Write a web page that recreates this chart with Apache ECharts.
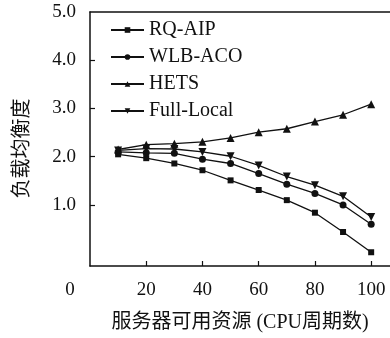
<!DOCTYPE html>
<html>
<head>
<meta charset="utf-8">
<script src="https://cdn.jsdelivr.net/npm/echarts@6/dist/echarts.min.js"></script>
<style>
  html, body { margin: 0; padding: 0; background: #fff; }
  #chart { width: 390px; height: 338px; }
</style>
</head>
<body>
<div id="chart"></div>
<script>
// CPU resources (cycles) on the x axis
const cpuResources = [10, 20, 30, 40, 50, 60, 70, 80, 90, 100];

// Load balance degree per scheduling strategy
const rqAip     = [2.05, 1.97, 1.86, 1.72, 1.51, 1.31, 1.10, 0.84, 0.44, 0.02];
const wlbAco    = [2.10, 2.08, 2.07, 1.95, 1.86, 1.65, 1.43, 1.24, 1.00, 0.60];
const hets      = [2.15, 2.25, 2.27, 2.31, 2.39, 2.51, 2.58, 2.73, 2.87, 3.09];
const fullLocal = [2.13, 2.17, 2.16, 2.10, 2.01, 1.82, 1.59, 1.41, 1.18, 0.75];

const seriesNames = ['RQ-AIP', 'WLB-ACO', 'HETS', 'Full-Local'];

const xTickValues  = [20, 40, 60, 80, 100];
const xLabelValues = [0, 20, 40, 60, 80, 100];
const yTickValues  = [1, 2, 3, 4];
const yLabelValues = [1, 2, 3, 4, 5];

const xName = '服务器可用资源 (CPU周期数)';
const yName = '负载均衡度';

const FONT = "'Liberation Serif', 'DejaVu Serif', 'Noto Sans CJK SC', serif";
const INK = '#111';

function pairs(ys) {
  return ys.map((y, i) => [cpuResources[i], y]);
}

function lineSeries(name, ys, symbol, size, rotate) {
  return {
    name: name,
    type: 'line',
    data: pairs(ys),
    symbol: symbol,
    symbolSize: size,
    symbolRotate: rotate || 0,
    showSymbol: true,
    animation: false,
    lineStyle: { color: INK, width: 1.3 },
    itemStyle: { color: INK, borderWidth: 0 }
  };
}

const chart = echarts.init(document.getElementById('chart'), null, { renderer: 'canvas' });

chart.setOption({
  backgroundColor: '#fff',
  animation: false,
  grid: { left: 90, right: 0, top: 12, bottom: 68.7, containLabel: false },
  legend: {
    data: seriesNames,
    orient: 'vertical',
    left: 105,
    top: 15,
    itemWidth: 33,
    itemHeight: 7,
    itemGap: 7,
    textStyle: { fontFamily: FONT, fontSize: 20, color: INK, lineHeight: 19 }
  },
  xAxis: [
    {
      type: 'value',
      min: 0,
      max: 106.7,
      position: 'bottom',
      name: xName,
      nameLocation: 'middle',
      nameGap: 47,
      nameTextStyle: { fontFamily: FONT, fontSize: 20, color: INK },
      axisLine: { show: true, onZero: false, lineStyle: { color: INK, width: 1.5 } },
      axisTick: { show: true, inside: true, length: 5, customValues: xTickValues, lineStyle: { color: INK, width: 1.2 } },
      axisLabel: {
        show: true,
        customValues: xLabelValues,
        margin: 15,
        fontFamily: FONT,
        fontSize: 19,
        color: INK,
        formatter: function (v) { return v === 0 ? '{z|0}' : String(v); },
        rich: { z: { fontFamily: FONT, fontSize: 19, color: INK, padding: [0, 40, 0, 0] } }
      },
      splitLine: { show: false }
    },
    {
      type: 'value',
      min: 0,
      max: 106.7,
      position: 'top',
      axisLine: { show: true, onZero: false, lineStyle: { color: INK, width: 1.5 } },
      axisTick: { show: false },
      axisLabel: { show: false },
      splitLine: { show: false }
    }
  ],
  yAxis: {
    type: 'value',
    min: -0.265,
    max: 5,
    name: yName,
    nameLocation: 'middle',
    nameRotate: 90,
    nameGap: 57,
    nameTextStyle: { fontFamily: FONT, fontSize: 20, color: INK, padding: [0, 19, 0, 0] },
    axisLine: { show: true, onZero: false, lineStyle: { color: INK, width: 1.5 } },
    axisTick: { show: true, inside: true, length: 5, customValues: yTickValues, lineStyle: { color: INK, width: 1.2 } },
    axisLabel: {
      show: true,
      customValues: yLabelValues,
      margin: 14,
      fontFamily: FONT,
      fontSize: 19,
      color: INK,
      formatter: function (v) { return v.toFixed(1); }
    },
    splitLine: { show: false }
  },
  series: [
    lineSeries('RQ-AIP', rqAip, 'rect', 6),
    lineSeries('WLB-ACO', wlbAco, 'circle', 7),
    lineSeries('HETS', hets, 'triangle', 8),
    lineSeries('Full-Local', fullLocal, 'triangle', 8, 180)
  ]
});
</script>
</body>
</html>
